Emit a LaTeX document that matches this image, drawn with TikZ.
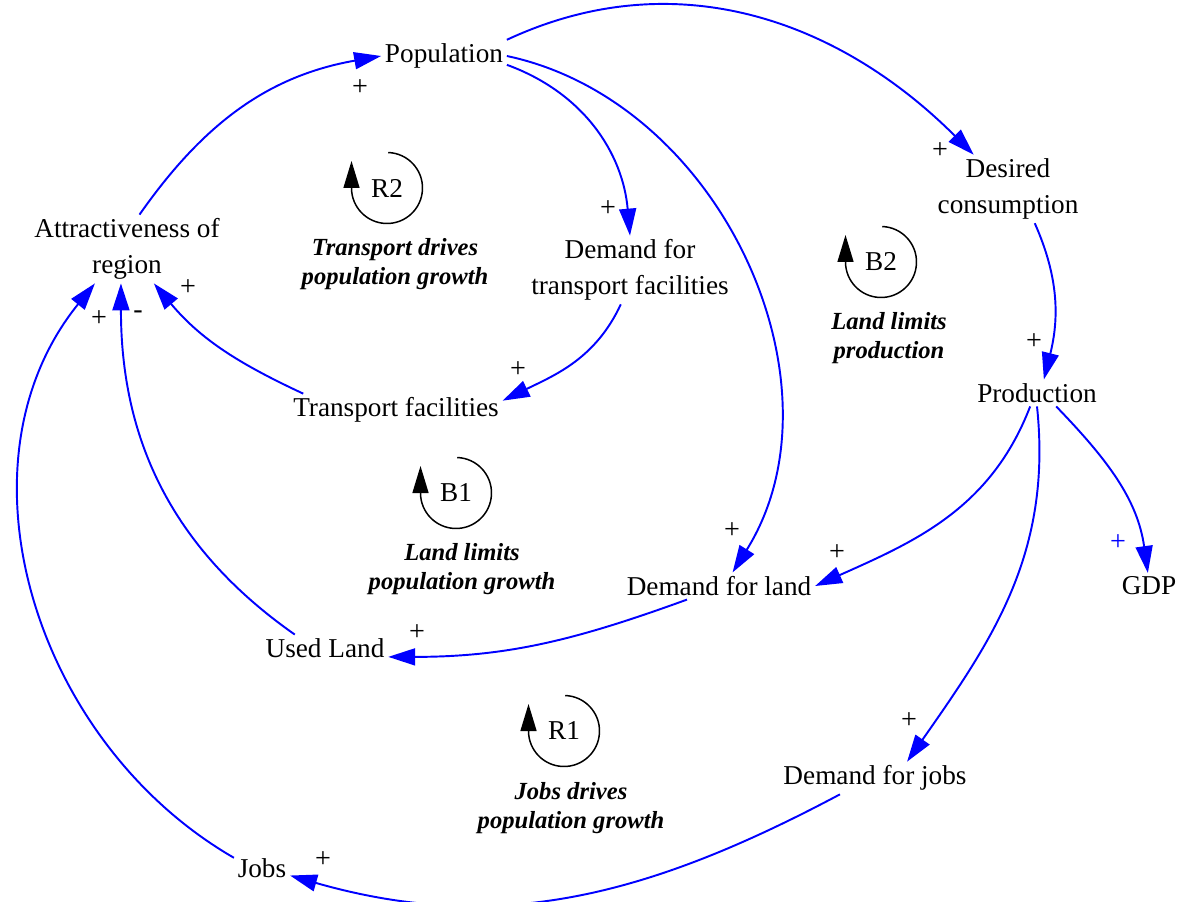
\documentclass[tikz,border=0pt]{standalone}
\usepackage{fontspec}
\setmainfont{Liberation Serif}
\usetikzlibrary{arrows.meta}

\begin{document}
\begin{tikzpicture}[x=0.02cm,y=0.02cm,
  >={Triangle[length=0.54cm,width=0.34cm]},
  var/.style={font=\fontsize{15.5}{20.5}\selectfont,align=center,inner sep=2pt},
  link/.style={->,blue,line width=1.1pt},
  sign/.style={font=\fontsize{16}{16}\selectfont,inner sep=0pt},
  loopname/.style={font=\fontsize{15.5}{18}\selectfont,inner sep=0pt},
  looptitle/.style={font=\fontsize{14}{16.8}\selectfont\bfseries\itshape,align=center,inner sep=0pt},
  loopline/.style={black,line width=0.85pt,-{Triangle[length=0.54cm,width=0.32cm]}}]

  \useasboundingbox (0,0) rectangle (1183,-902);

  % variables
  \node[var] (pop)  at (444,-56)  {Population};
  \node[var] (attr) at (127,-249) {Attractiveness of\\region};
  \node[var] (dc)   at (1008,-189) {Desired\\consumption};
  \node[var] (dtf)  at (630,-270) {Demand for\\transport facilities};
  \node[var] (prod) at (1037,-393) {Production};
  \node[var] (tf)   at (396,-410) {Transport facilities};
  \node[var] (dl)   at (719,-586) {Demand for land};
  \node[var] (gdp)  at (1149,-586) {GDP};
  \node[var] (ul)   at (325,-648) {Used Land};
  \node[var] (dj)   at (875,-778) {Demand for jobs};
  \node[var] (jobs) at (262,-868) {Jobs};

  % causal links
  \path[link]
    (pop.north east) edge[out=25,in=135] (dc)
    (pop.-8)         edge[out=-20,in=95] (dtf.north)
    (pop.east)       edge[out=-12,in=58] (dl.45)
    (attr.70)        edge[out=55,in=190] (pop.west)
    (dtf.-105)       edge[out=-115,in=26] (tf.5)
    (tf.170)         edge[out=155,in=-50] (attr.-52)
    (ul.156)         edge[out=145,in=-90] (attr.-100)
    (jobs.160)       edge[out=150,in=-129] (attr.-133)
    (dc.-52)         edge[out=-66,in=76] (prod.63)
    (prod.-117)      edge[out=-111,in=24] (dl.east)
    (prod.-35)       edge[out=-46,in=98] (gdp.95)
    (prod.south)     edge[out=-84,in=55] (dj.27)
    (dl.-157)        edge[out=-160,in=0] (ul.-8)
    (dj.-155)        edge[out=-152,in=-16] (jobs.-15);

  % polarities
  \node[sign] (s1)  at (360,-88)  {+};
  \node[sign] (s2)  at (940,-151) {+};
  \node[sign] (s3)  at (608,-209) {+};
  \node[sign] (s4)  at (518,-370) {+};
  \node[sign] (s5)  at (188,-288) {+};
  \node[sign] (s6)  at (138,-315) {-};
  \node[sign] (s7)  at (99,-319)  {+};
  \node[sign] (s8)  at (1034,-342) {+};
  \node[sign] (s9)  at (837,-553) {+};
  \node[sign,text=blue] (s10) at (1118,-543) {+};
  \node[sign] (s11) at (732,-531) {+};
  \node[sign] (s12) at (909,-721) {+};
  \node[sign] (s13) at (417,-633) {+};
  \node[sign] (s14) at (323,-860) {+};

  % loops
  \node[loopname] (r2) at (387,-188) {R2};
  \node[loopname] (b2) at (881,-262) {B2};
  \node[loopname] (b1) at (456,-493) {B1};
  \node[loopname] (r1) at (564,-731) {R1};
  \foreach \l in {r2,b2,b1,r1}
    \draw[loopline] (\l.center) ++(88:0.71cm) arc[start angle=88,end angle=-180,radius=0.71cm] -- ++(0,0.54cm);

  \node[looptitle] (r2t) at (395,-264) {Transport drives\\population growth};
  \node[looptitle] (b2t) at (889,-338) {Land limits\\production};
  \node[looptitle] (b1t) at (462,-569) {Land limits\\population growth};
  \node[looptitle] (r1t) at (571,-808) {Jobs drives\\population growth};
\end{tikzpicture}
\end{document}
